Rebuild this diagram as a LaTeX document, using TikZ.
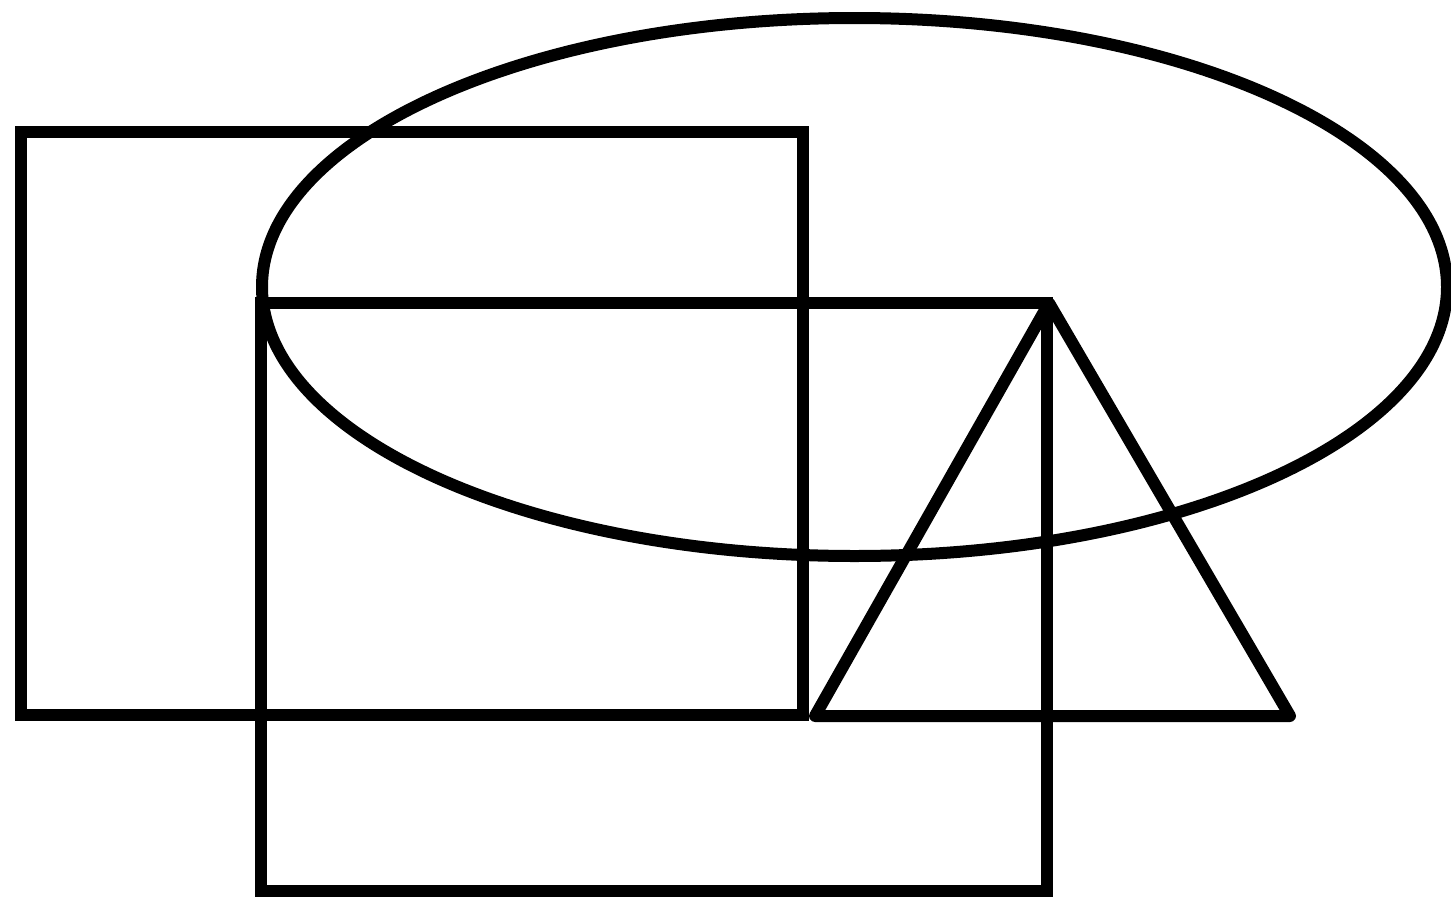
\documentclass[tikz,border=0pt]{standalone}
\begin{document}
\begin{tikzpicture}[x=1pt,y=-1pt,
  shape line/.style={draw=black,line width=12pt},
  tri line/.style={shape line,line join=round}]
\useasboundingbox (0,0) rectangle (1451,897);
\clip (0,0) rectangle (1451,897);
% ellipse
\draw[shape line] (854.5,287) ellipse [x radius=592.5pt,y radius=269pt];
% rectangle 1
\draw[shape line] (21,131.5) rectangle (802.5,715);
% rectangle 2
\draw[shape line] (260.5,302.5) rectangle (1047,891);
% triangle
\draw[tri line] (1049,303) -- (815,716) -- (1290,716) -- cycle;
\end{tikzpicture}
\end{document}
